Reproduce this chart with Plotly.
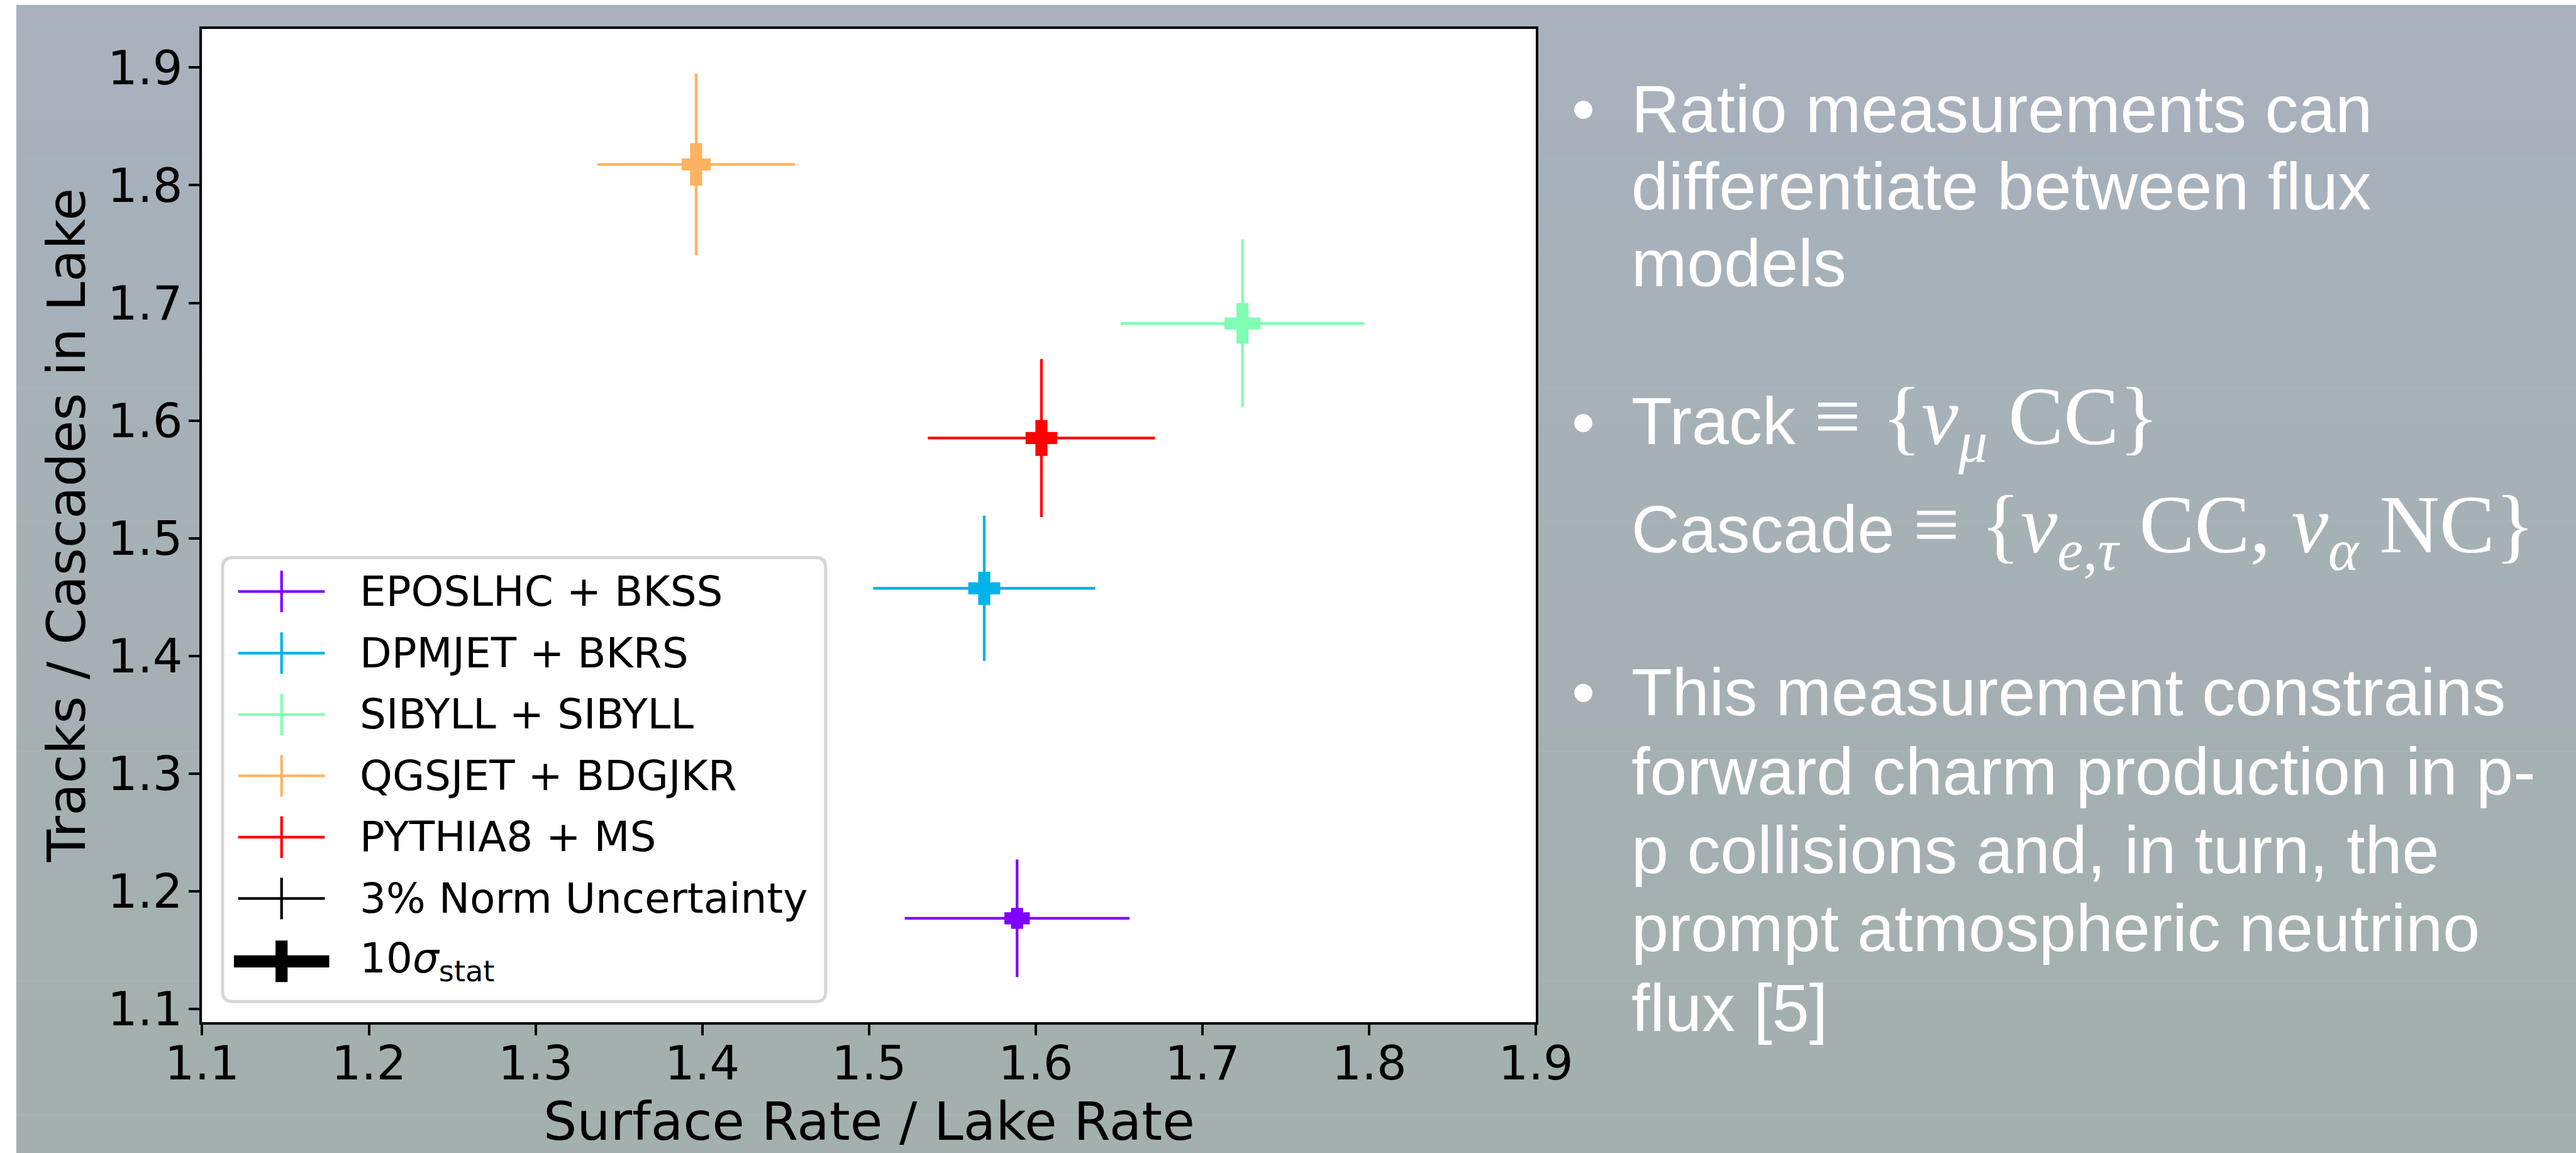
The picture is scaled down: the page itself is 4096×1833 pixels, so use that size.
import plotly.graph_objects as go

W, H = 4096, 1833

# ---------------- data ----------------
models = ["EPOSLHC + BKSS", "DPMJET + BKRS", "SIBYLL + SIBYLL", "QGSJET + BDGJKR", "PYTHIA8 + MS"]
colors = ["#8000FF", "#01B3EB", "#80FEB3", "#FFB360", "#FF0000"]
surface_over_lake = [1.5888, 1.5691, 1.7240, 1.3963, 1.6034]
tracks_over_cascades = [1.1771, 1.4575, 1.6825, 1.8176, 1.5852]
norm_err_x = [0.0674, 0.0666, 0.0731, 0.0593, 0.0681]
norm_err_y = [0.0499, 0.0617, 0.0714, 0.0772, 0.0671]
stat_err_x = [0.0076, 0.0096, 0.0108, 0.0087, 0.0095]
stat_err_y = [0.0089, 0.0141, 0.0173, 0.0181, 0.0152]
extra_legend = ["3% Norm Uncertainty", "10<i>σ</i><sub>stat</sub>"]
x_ticks = [1.1, 1.2, 1.3, 1.4, 1.5, 1.6, 1.7, 1.8, 1.9]
y_ticks = [1.1, 1.2, 1.3, 1.4, 1.5, 1.6, 1.7, 1.8, 1.9]
x_range = [1.1, 1.9]
y_range = [1.0888, 1.933]

SERIF = "<span style='font-family:Liberation Serif;font-size:132px'>"
bullet_lines = [
    ["Ratio measurements can", "differentiate between flux", "models"],
    ["Track " + SERIF + "≡ {<i>ν</i><sub><i>μ</i></sub> CC}</span>",
     "Cascade " + SERIF + "≡ {<i>ν</i><sub><i>e</i>,<i>τ</i></sub> CC, <i>ν</i><sub><i>α</i></sub> NC}</span>"],
    ["This measurement constrains", "forward charm production in p-", "p collisions and, in turn, the",
     "prompt atmospheric neutrino", "flux [5]"],
]

# ---------------- styling / layout constants ----------------
FONT = "DejaVu Sans"
THIN = 4.3
THICK = 19.2
px = lambda v: v / W
py = lambda v: 1 - v / H

plot_l, plot_r, plot_t, plot_b = 321.4, 2442.2, 45.5, 1625.2

fig = go.Figure()

for i, m in enumerate(models):
    fig.add_trace(go.Scatter(
        x=[surface_over_lake[i]], y=[tracks_over_cascades[i]], mode="markers",
        marker=dict(size=1, color="rgba(0,0,0,0)"),
        error_x=dict(type="data", array=[norm_err_x[i]], color=colors[i], thickness=THIN, width=0),
        error_y=dict(type="data", array=[norm_err_y[i]], color=colors[i], thickness=THIN, width=0),
        name=m, showlegend=False, hoverinfo="skip"))
for i, m in enumerate(models):
    fig.add_trace(go.Scatter(
        x=[surface_over_lake[i]], y=[tracks_over_cascades[i]], mode="markers",
        marker=dict(size=1, color="rgba(0,0,0,0)"),
        error_x=dict(type="data", array=[stat_err_x[i]], color=colors[i], thickness=THICK, width=0),
        error_y=dict(type="data", array=[stat_err_y[i]], color=colors[i], thickness=THICK, width=0),
        name=m + " stat", showlegend=False, hoverinfo="skip"))

shapes = []
# slide background: vertical gradient
top_c = (168, 177, 189)
bot_c = (164, 176, 174)
nb = 60
y_top_bg = 7.8
for k in range(nb):
    t = (k + 0.5) / nb
    c = tuple(round(top_c[j] + (bot_c[j] - top_c[j]) * t) for j in range(3))
    y0 = y_top_bg + (H - y_top_bg) * k / nb
    y1 = y_top_bg + (H - y_top_bg) * (k + 1) / nb + 0.6
    shapes.append(dict(type="rect", xref="paper", yref="paper", x0=px(26), x1=1.0,
                       y0=py(min(y1, H)), y1=py(y0), fillcolor="rgb(%d,%d,%d)" % c,
                       line=dict(width=0), layer="below"))
# plot area white
shapes.append(dict(type="rect", xref="x domain", yref="y domain", x0=0, x1=1, y0=0, y1=1,
                   fillcolor="white", line=dict(width=0), layer="below"))

# legend frame
lx0, lx1, ly0, ly1, r = 353.9, 1312.8, 886.5, 1592.3, 16
path = (f"M {px(lx0 + r)},{py(ly0)} L {px(lx1 - r)},{py(ly0)} Q {px(lx1)},{py(ly0)} {px(lx1)},{py(ly0 + r)} "
        f"L {px(lx1)},{py(ly1 - r)} Q {px(lx1)},{py(ly1)} {px(lx1 - r)},{py(ly1)} "
        f"L {px(lx0 + r)},{py(ly1)} Q {px(lx0)},{py(ly1)} {px(lx0)},{py(ly1 - r)} "
        f"L {px(lx0)},{py(ly0 + r)} Q {px(lx0)},{py(ly0)} {px(lx0 + r)},{py(ly0)} Z")
shapes.append(dict(type="path", xref="paper", yref="paper", path=path, fillcolor="white",
                   line=dict(color="#D6D6D6", width=5), layer="above"))

rows = [940.3, 1038.3, 1135.9, 1233.4, 1330.9, 1428.4, 1528.3]
labels = models + extra_legend
handle_colors = colors + ["black", "black"]
annotations = []
for k, (lab, col, yr) in enumerate(zip(labels, handle_colors, rows)):
    thick = k == len(labels) - 1
    hx0, hx1 = (372.0, 523.5) if thick else (378.7, 516.4)
    wdt = THICK if thick else THIN
    cx = 447.7
    shapes.append(dict(type="line", xref="paper", yref="paper", x0=px(hx0), x1=px(hx1),
                       y0=py(yr), y1=py(yr), line=dict(color=col, width=wdt), layer="above"))
    shapes.append(dict(type="line", xref="paper", yref="paper", x0=px(cx), x1=px(cx),
                       y0=py(yr - 33), y1=py(yr + 33), line=dict(color=col, width=wdt), layer="above"))
    annotations.append(dict(text=lab, xref="paper", yref="paper", x=px(570.4), y=py(yr),
                            xanchor="left", yanchor="middle", showarrow=False,
                            font=dict(family=FONT, size=66, color="black")))

# axis titles
annotations.append(dict(text="Surface Rate / Lake Rate", xref="paper", yref="paper",
                        x=px((plot_l + plot_r) / 2), y=py(1783), xanchor="center", yanchor="middle",
                        showarrow=False, font=dict(family=FONT, size=84, color="black")))
annotations.append(dict(text="Tracks / Cascades in Lake", xref="paper", yref="paper", textangle=-90,
                        x=px(106), y=py((plot_t + plot_b) / 2), xanchor="center", yanchor="middle",
                        showarrow=False, font=dict(family=FONT, size=84, color="black")))

# right-hand bullet text
TFONT = "Liberation Sans"
TSIZE = 106
line_y = [[172.5, 295.6, 418.0], [671.0, 843.0], [1100.0, 1226.0, 1351.0, 1475.0, 1602.0]]
for lines, ys in zip(bullet_lines, line_y):
    annotations.append(dict(text="•", xref="paper", yref="paper", x=px(2497), y=py(ys[0]),
                            xanchor="left", yanchor="middle", showarrow=False,
                            font=dict(family=TFONT, size=TSIZE, color="white")))
    for txt, yy in zip(lines, ys):
        annotations.append(dict(text=txt, xref="paper", yref="paper", x=px(2592), y=py(yy),
                                xanchor="left", yanchor="middle", showarrow=False,
                                font=dict(family=TFONT, size=TSIZE, color="white")))

axis_common = dict(ticks="outside", ticklen=17, tickwidth=4, tickcolor="black",
                   showline=True, linecolor="black", linewidth=4, mirror=True,
                   showgrid=False, zeroline=False, automargin=False,
                   tickfont=dict(family=FONT, size=75, color="black"))

fig.update_layout(
    width=W, height=H, autosize=False,
    margin=dict(l=0, r=0, t=0, b=0, pad=0),
    paper_bgcolor="white", plot_bgcolor="white",
    showlegend=False,
    xaxis=dict(range=x_range, tickvals=x_ticks, ticktext=[f"{v:.1f}" for v in x_ticks],
               domain=[px(plot_l), px(plot_r)], ticklabelstandoff=-20, **axis_common),
    yaxis=dict(range=y_range, tickvals=y_ticks, ticktext=[f"{v:.1f}" for v in y_ticks],
               domain=[py(plot_b), py(plot_t)], ticklabelstandoff=-5, **axis_common),
    shapes=shapes, annotations=annotations,
)

fig.write_html("out.html", config={"displayModeBar": False},
               post_script="document.body.style.margin='0';document.body.style.overflow='hidden';")
